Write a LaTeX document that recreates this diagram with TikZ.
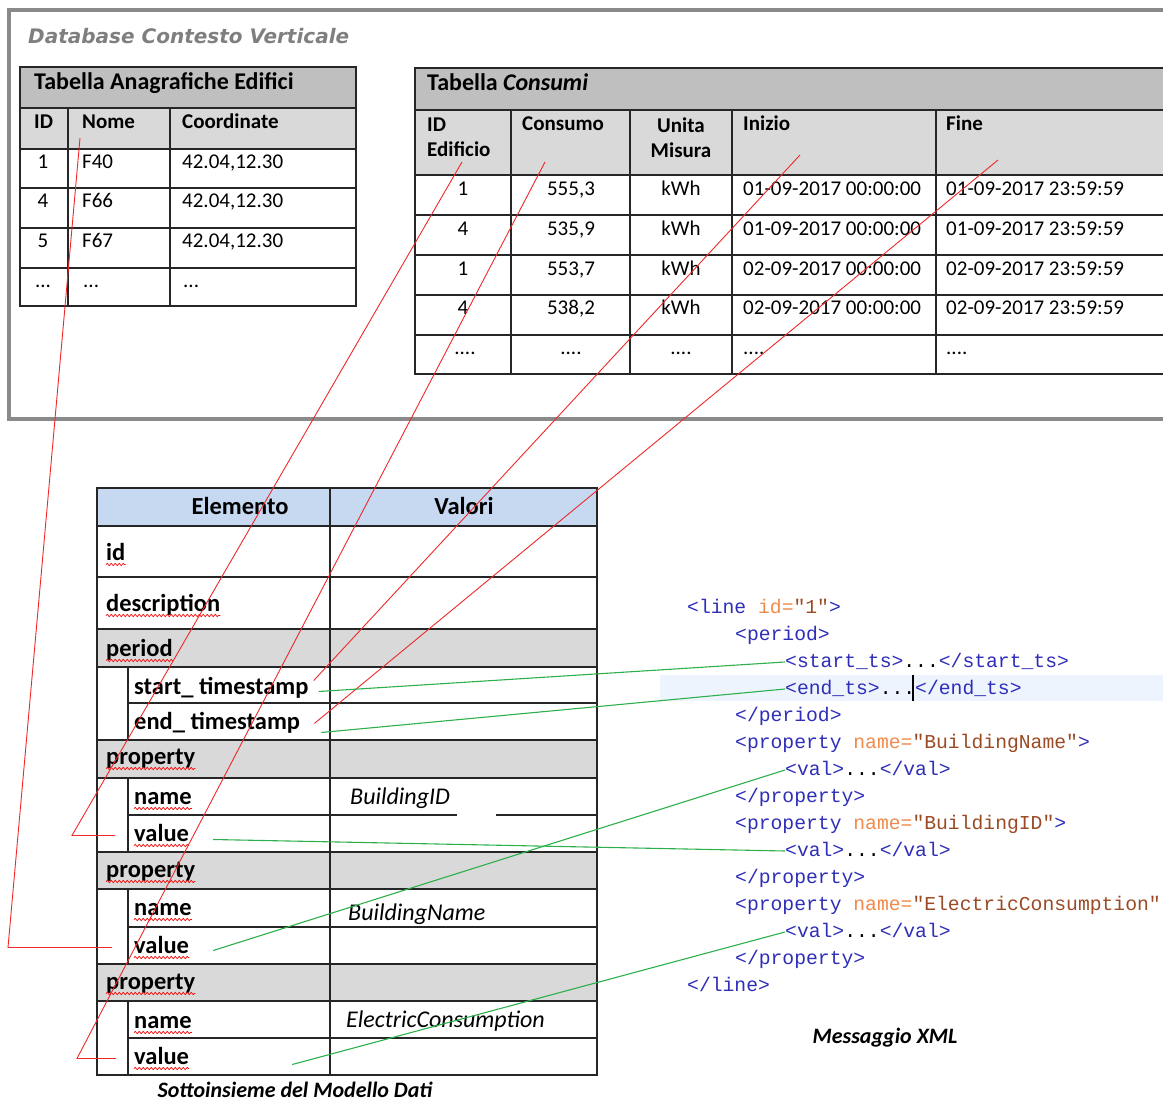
\documentclass[tikz,border=0pt]{standalone}
\usepackage{fontspec}
\setmainfont{Carlito}
\newfontfamily\codefont{Liberation Mono}
\newfontfamily\verdfont{DejaVu Sans}
\usetikzlibrary{decorations.pathmorphing}

\definecolor{hdrgray}{HTML}{BFBFBF}
\definecolor{colgray}{HTML}{D9D9D9}
\definecolor{hdrblue}{HTML}{C6D9F1}
\definecolor{framegray}{HTML}{8A8A8A}
\definecolor{titlegray}{HTML}{7F7F7F}
\definecolor{linkred}{HTML}{F02828}
\definecolor{linkgreen}{HTML}{2DB04B}
\definecolor{tagblue}{HTML}{2E2EB8}
\definecolor{attrorange}{HTML}{F08A4B}
\definecolor{valbrown}{HTML}{9A4A25}
\definecolor{hilite}{HTML}{EDF4FD}

\newcommand{\xtag}[1]{\textcolor{tagblue}{#1}}
\newcommand{\xattr}[1]{\textcolor{attrorange}{#1}}
\newcommand{\xval}[1]{\textcolor{valbrown}{#1}}

\begin{document}
\begin{tikzpicture}[
		x=1pt, y=-1pt,
		grid line/.style={draw=black!85, line width=1.5pt},
		red link/.style={draw=linkred, line width=0.9pt},
		green link/.style={draw=linkgreen, line width=1.1pt},
		spell/.style={draw=red, line width=0.7pt, decorate, decoration={snake, amplitude=1.1pt, segment length=4pt}},
		]
		\tikzset{
			dbtitle/.style={font=\verdfont\bfseries\itshape\fontsize{20}{23}\selectfont, text=titlegray, inner sep=0pt, anchor=base west},
			tabhead/.style={font=\bfseries\fontsize{24}{28}\selectfont, inner sep=0pt, anchor=base west},
			colhead/.style={font=\bfseries\fontsize{21}{25}\selectfont, inner sep=0pt, anchor=base west},
			cell/.style={font=\fontsize{21}{25}\selectfont, inner sep=0pt, anchor=base west},
			elem/.style={font=\bfseries\fontsize{24.5}{28}\selectfont, inner sep=0pt, anchor=base west, text height=16pt, text depth=5pt},
			valcell/.style={font=\itshape\fontsize{24}{28}\selectfont, inner sep=0pt, anchor=base west},
			caption/.style={font=\bfseries\itshape\fontsize{22}{26}\selectfont, inner sep=0pt, anchor=base},
			code/.style={font=\codefont\fontsize{19.7}{24}\selectfont, inner sep=0pt, anchor=west, text height=14pt, text depth=4pt},
		}
		\useasboundingbox (0,0) rectangle (1163,1102);
		\clip (0,0) rectangle (1163,1102);
		
		\draw[framegray, line width=4.5pt] (9,10) rectangle (1190,419);
		\node[dbtitle] (dbTitle) at (28,44) {Database Contesto Verticale};
		
		\fill[hdrgray] (20,67) rectangle (356,108);
		\fill[colgray] (20,108) rectangle (356,149);
		\draw[grid line] (20,67) rectangle (356,306);
		\foreach \y in {108,149,188,228,268}{
			\draw[grid line] (20,\y) -- (356,\y);
		}
		\foreach \x in {68,170}{
			\draw[grid line] (\x,108) -- (\x,306);
		}
		\node[tabhead] (anaTitle) at (34,90) {Tabella Anagrafiche Edifici};
		\node[colhead] (hId) at (34,129) {ID};
		\node[colhead] (hNome) at (82,129) {Nome};
		\node[colhead] (hCoord) at (182,129) {Coordinate};
		\foreach \yb/\i/\nm/\co [count=\r] in {169/1/F40/{42.04,12.30}, 208/4/F66/{42.04,12.30}, 248/5/F67/{42.04,12.30}}{
			\node[cell, anchor=base] (ana\r-id) at (43,\yb) {\i};
			\node[cell] (ana\r-nm) at (82,\yb) {\nm};
			\node[cell] (ana\r-co) at (182,\yb) {\co};
		}
		\node[cell, anchor=base] (ana4-id) at (43,288) {...};
		\node[cell] (ana4-nm) at (83,288) {...};
		\node[cell] (ana4-co) at (183,288) {...};
		
		\fill[hdrgray] (415,68) rectangle (1170,110);
		\fill[colgray] (415,110) rectangle (1170,175);
		\draw[grid line] (1170,68) -- (415,68) -- (415,374) -- (1170,374);
		\foreach \y in {110,175,215,255,295,335}{
			\draw[grid line] (415,\y) -- (1170,\y);
		}
		\foreach \x in {511,630,732,936}{
			\draw[grid line] (\x,110) -- (\x,374);
		}
		\node[tabhead] (conTitle) at (427,91) {Tabella \textit{Consumi}};
		\node[colhead, anchor=north west, align=left] (hIdEd) at (427,118) {ID\\Edificio};
		\node[colhead] (hCons) at (522,131) {Consumo};
		\node[colhead, anchor=north, align=center] (hUnit) at (681,118) {Unita\\Misura};
		\node[colhead] (hIni) at (743,131) {Inizio};
		\node[colhead] (hFine) at (946,131) {Fine};
		\foreach \yb/\bid/\cons/\ini/\fin [count=\r] in {196/1/{555,3}/01-09-2017/01-09-2017, 236/4/{535,9}/01-09-2017/01-09-2017, 276/1/{553,7}/02-09-2017/02-09-2017, 315/4/{538,2}/02-09-2017/02-09-2017}{
			\node[cell, anchor=base] (con\r-id) at (463,\yb) {\bid};
			\node[cell, anchor=base] (con\r-cs) at (571,\yb) {\cons};
			\node[cell, anchor=base] (con\r-um) at (681,\yb) {kWh};
			\node[cell] (con\r-in) at (743,\yb) {\ini{} 00:00:00};
			\node[cell] (con\r-fi) at (946,\yb) {\fin{} 23:59:59};
		}
		\node[cell, anchor=base] (con5-id) at (465,355) {....};
		\node[cell, anchor=base] (con5-cs) at (571,355) {....};
		\node[cell, anchor=base] (con5-um) at (681,355) {....};
		\node[cell] (con5-in) at (743,355) {....};
		\node[cell] (con5-fi) at (946,355) {....};
		
		\coordinate (nomeTop) at (80,138);
		\coordinate (idTop) at (462,162);
		\coordinate (consTop) at (545,162);
		\coordinate (iniTop) at (800,155);
		\coordinate (fineTop) at (998,160);
		
		\fill[hdrblue] (97,488) rectangle (597,526);
		\foreach \y in {629,740,852,964}{
			\fill[colgray] (97,\y) rectangle (597,\y+38);
		}
		\draw[grid line] (97,488) rectangle (597,1075);
		\draw[grid line] (330,488) -- (330,1075);
		\foreach \y in {526,577,629,667,740,778,852,889,964,1001}{
			\draw[grid line] (97,\y) -- (597,\y);
		}
		\foreach \y in {703,927,1038}{
			\draw[grid line] (128,\y) -- (597,\y);
		}
		\draw[grid line] (128,815) -- (457,815);
		\draw[grid line] (496,815) -- (597,815);
		\foreach \a/\b in {667/740,778/852,889/964,1001/1075}{
			\draw[grid line] (128,\a) -- (128,\b);
		}
		
		\node[elem, anchor=base] (hElem) at (240,514) {Elemento};
		\node[elem, anchor=base] (hVal) at (464,514) {Valori};
		\node[elem] (id) at (106,560) {id};
		\node[elem] (desc) at (106,611) {description};
		\node[elem] (per) at (106,656) {period};
		\node[elem] (st) at (134,694) {start\_ timestamp};
		\node[elem] (et) at (134,729) {end\_ timestamp};
		\node[elem] (p1) at (106,764) {property};
		\node[elem] (n1) at (134,804) {name};
		\node[elem] (v1) at (134,841) {value};
		\node[elem] (p2) at (106,877) {property};
		\node[elem] (n2) at (134,915) {name};
		\node[elem] (v2) at (134,953) {value};
		\node[elem] (p3) at (106,989) {property};
		\node[elem] (n3) at (134,1028) {name};
		\node[elem] (v3) at (134,1064) {value};
		\foreach \nd in {id,desc,per,p1,n1,v1,p2,n2,v2,p3,n3,v3}{
			\draw[spell] ([yshift=-4.5pt]\nd.base west) -- ([yshift=-4.5pt]\nd.base east);
		}
		\node[valcell] (bid) at (350,804) {BuildingID};
		\node[valcell] (bname) at (348,920) {BuildingName};
		\node[valcell] (econs) at (346,1027) {ElectricConsumption};
		\node[caption] (capModel) at (295,1097) {Sottoinsieme del Modello Dati};
		
		\fill[hilite] (660,675) rectangle (1170,701);
		\node[code] (xline) at (687,608) {\xtag{<line} \xattr{id=}\xval{"1"}\xtag{>}};
		\node[code] (xper) at (735,635) {\xtag{<period>}};
		\node[code] (xst) at (785,662) {\xtag{<start\_ts>}...\xtag{</start\_ts>}};
		\node[code] (xen) at (785,689) {\xtag{<end\_ts>}...\xtag{</end\_ts>}};
		\node[code] (xperc) at (735,716) {\xtag{</period>}};
		\node[code] (xp1) at (735,743) {\xtag{<property} \xattr{name=}\xval{"BuildingName"}\xtag{>}};
		\node[code] (xv1) at (785,770) {\xtag{<val>}...\xtag{</val>}};
		\node[code] (xp1c) at (735,797) {\xtag{</property>}};
		\node[code] (xp2) at (735,824) {\xtag{<property} \xattr{name=}\xval{"BuildingID"}\xtag{>}};
		\node[code] (xv2) at (785,851) {\xtag{<val>}...\xtag{</val>}};
		\node[code] (xp2c) at (735,878) {\xtag{</property>}};
		\node[code] (xp3) at (735,905) {\xtag{<property} \xattr{name=}\xval{"ElectricConsumption"}};
		\node[code] (xv3) at (785,932) {\xtag{<val>}...\xtag{</val>}};
		\node[code] (xp3c) at (735,959) {\xtag{</property>}};
		\node[code] (xlinec) at (687,986) {\xtag{</line>}};
		\draw[line width=2.5pt] (913,675) -- (913,701);
		\node[caption] (capXml) at (885,1043) {Messaggio XML};
		
		\draw[red link] (nomeTop) -- ([xshift=-126pt]v2.west) -- ([xshift=-22pt]v2.west);
		\draw[red link] (idTop) -- ([xshift=-62pt]v1.west) -- ([xshift=-19pt]v1.west);
		\draw[red link] (consTop) -- ([xshift=-57pt]v3.west) -- ([xshift=-18pt]v3.west);
		\draw[red link] (iniTop) -- ([xshift=5pt,yshift=8pt]st.east);
		\draw[red link] (fineTop) -- ([xshift=14pt]et.east);
		
		\draw[green link] ([xshift=10pt,yshift=-3pt]st.east) -- (xst.west);
		\draw[green link] ([xshift=21pt,yshift=-9pt]et.east) -- (xen.west);
		\draw[green link] ([xshift=24pt,yshift=-4pt]v1.east) -- (xv2.west);
		\draw[green link] ([xshift=24pt,yshift=-3pt]v2.east) -- (xv1.west);
		\draw[green link] ([xshift=103pt,yshift=-6pt]v3.east) -- (xv3.west);
	\end{tikzpicture}
\end{document}
